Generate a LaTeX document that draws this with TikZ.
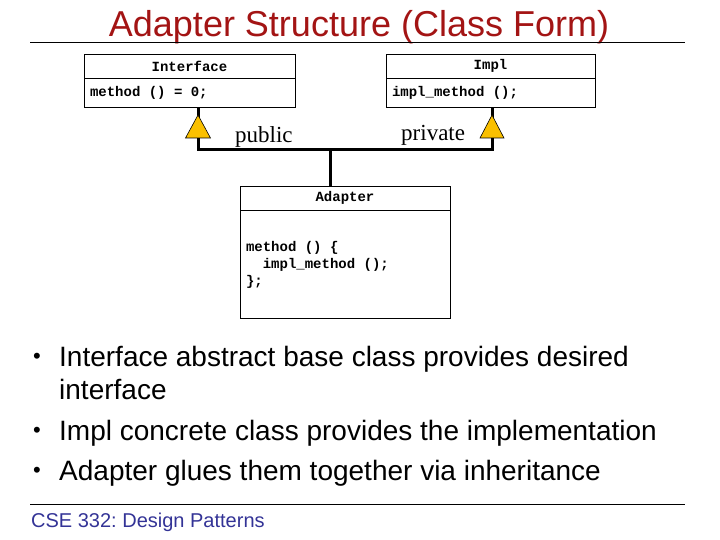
\documentclass[tikz,border=0pt]{standalone}
\usepackage{fontspec}
\setmainfont{Liberation Sans}
\newfontfamily\serifface{Liberation Serif}
\newfontfamily\monoface{Liberation Mono}
\newcommand\monosel{\monoface\bfseries\fontsize{14}{17}\selectfont}
\newcommand\msp{\hspace*{0.6em}}
\definecolor{titlered}{RGB}{163,20,20}
\definecolor{footblue}{RGB}{51,51,150}
\definecolor{trigold}{RGB}{250,192,0}
\frenchspacing
\begin{document}
\begin{tikzpicture}[x=1pt,y=-1pt,
  hdr/.style={draw=black,line width=0.8pt,inner sep=0pt,font=\monosel},
  body/.style={draw=black,line width=0.8pt,inner xsep=6pt,inner ysep=0pt,align=left,font=\monosel},
  conn/.style={line width=3pt,line cap=butt},
  tri/.style={draw=black,line width=0.6pt,fill=trigold},
  access/.style={font=\serifface\fontsize{23}{26}\selectfont,inner sep=0pt},
  bullet/.style={anchor=base west,inner sep=0pt,font=\fontsize{28}{32}\selectfont},
  bulletdot/.style={anchor=base west,inner sep=0pt,font=\fontsize{22}{24}\selectfont},
  rulel/.style={line width=0.8pt}
]
\useasboundingbox (0,0) rectangle (720,540);
% title
\node[anchor=base,inner sep=0pt,text=titlered,font=\fontsize{36}{40}\selectfont] (title) at (359,37) {Adapter Structure (Class Form)};
\coordinate (tl) at (30,42);
\coordinate (tr) at (685,42);
\draw[rulel] (tl) -- (tr);
% Interface class
\node[hdr,minimum width=211pt,minimum height=24pt] (ifh) at (189.5,66) {Interface};
\node[body,minimum width=211pt,minimum height=29pt,text width=199pt,anchor=north] (ifb) at (ifh.south) {method\msp()\msp=\msp0;};
% Impl class
\node[hdr,minimum width=209pt,minimum height=24pt] (imh) at (490.5,66) {Impl};
\node[body,minimum width=209pt,minimum height=29pt,text width=197pt,anchor=north] (imb) at (imh.south) {impl\_method\msp();};
% Adapter class
\node[hdr,minimum width=210pt,minimum height=24pt] (adh) at (345,198) {Adapter};
\node[body,minimum width=210pt,minimum height=108pt,text width=198pt,anchor=north] (adb) at (adh.south) {method\msp()\msp\{\\\msp\msp impl\_method\msp();\\\};};
% connectors
\coordinate (jl) at (198,150);
\coordinate (jr) at (492,150);
\coordinate (jm) at (330,150);
\draw[conn] (ifb.south -| jl) -- (jl) -- (jr) -- (imb.south -| jr);
\draw[conn] (jm) -- (adh.north -| jm);
% triangles
\draw[tri] (198,115) -- (210.5,138) -- (185.5,138) -- cycle;
\draw[tri] (492,115) -- (504,138) -- (480,138) -- cycle;
% access labels
\node[access,anchor=base west] (pub) at (235,143) {public};
\node[access,anchor=base west] (priv) at (401,141) {private};
% bullets
\node[bulletdot] (b1) at (33,363) {\textbullet};
\node[bullet] (t1) at (59,366) {Interface abstract base class provides desired};
\node[bullet] (t1b) at (59,399) {interface};
\node[bulletdot] (b2) at (33,437) {\textbullet};
\node[bullet] (t2) at (59,440) {Impl concrete class provides the implementation};
\node[bulletdot] (b3) at (33,477) {\textbullet};
\node[bullet] (t3) at (59,480) {Adapter glues them together via inheritance};
% footer
\coordinate (fl) at (30,504);
\coordinate (fr) at (685,504);
\draw[rulel] (fl) -- (fr);
\node[anchor=base west,inner sep=0pt,text=footblue,font=\fontsize{20}{24}\selectfont] (foot) at (31,527) {CSE 332: Design Patterns};
\end{tikzpicture}
\end{document}
